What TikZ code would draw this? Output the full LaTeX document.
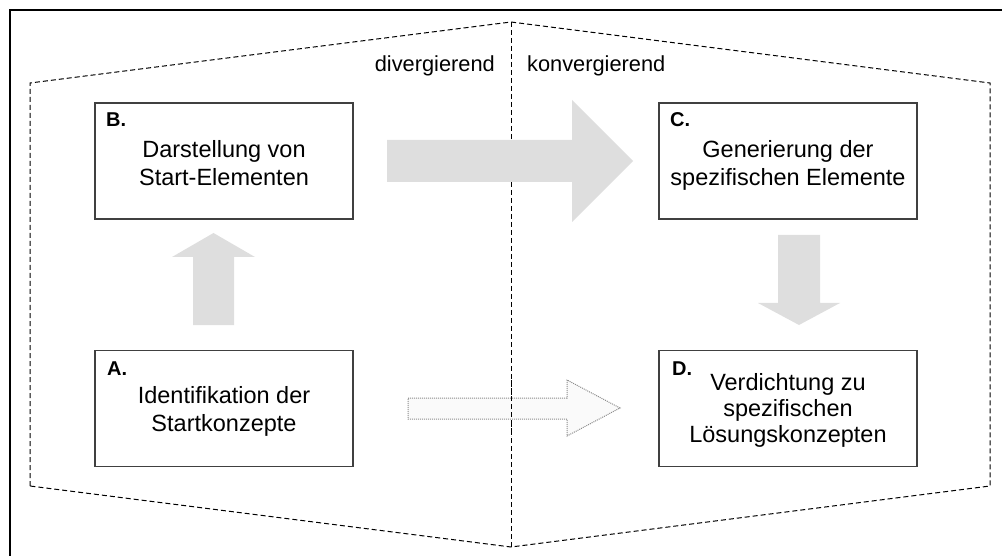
\documentclass[tikz,border=0pt]{standalone}
\usepackage{fontspec}
\setmainfont{Liberation Sans}
\begin{document}
\begin{tikzpicture}[x=1pt,y=-1pt,
  frame/.style={line width=2pt,black},
  zone/.style={line width=1pt,black,dash pattern=on 5pt off 3pt},
  stagebox/.style={draw=black!75,line width=1.5pt,fill=white,inner sep=0pt},
  bodytext/.style={inner sep=0pt,align=center,anchor=base,
    font=\fontsize{23.5}{28}\selectfont},
  tag/.style={inner sep=0pt,anchor=base west,font=\fontsize{20}{24}\selectfont\bfseries},
  phase/.style={inner sep=0pt,font=\fontsize{21.8}{26}\selectfont},
  blockarrow/.style={fill=black!13,draw=none},
  weakarrow/.style={fill=black!2,draw=black!45,line width=1pt,dash pattern=on 1pt off 1pt}]
\useasboundingbox (0,0) rectangle (1002,556);

% outer frame (top and left edges)
\draw[frame] (9.5,556) -- (9.5,10) -- (1002,10);

% divergent / convergent zones
\draw[zone] (30,486) -- (30,83) -- (511,22) -- (990,83) -- (990,486) -- (511,547) -- cycle;
\draw[zone] (511,22) -- (511,547);
\node[phase,anchor=base east] (div) at (495,72) {divergierend};
\node[phase,anchor=base west] (konv) at (527,72) {konvergierend};

% stage boxes
\node[stagebox,minimum width=258pt,minimum height=116pt] (B) at (224,161) {};
\node[stagebox,minimum width=258pt,minimum height=116pt] (C) at (788,161) {};
\node[stagebox,minimum width=258pt,minimum height=116pt] (A) at (224,408.5) {};
\node[stagebox,minimum width=258pt,minimum height=116pt] (D) at (788,408.5) {};

% block arrows between the stages
\path[blockarrow] (387,140) -- (572,140) -- (572,100) -- (633,161) -- (572,222)
  -- (572,182) -- (387,182) -- cycle;
\path[blockarrow] (193,325) -- (193,257) -- (172,257) -- (213.5,233) -- (255,257)
  -- (234,257) -- (234,325) -- cycle;
\path[blockarrow] (778,235) -- (820,235) -- (820,303) -- (840,303) -- (799,325)
  -- (758,303) -- (778,303) -- cycle;
\draw[weakarrow] (408,398) -- (567,398) -- (567,380) -- (620,408) -- (567,436)
  -- (567,419) -- (408,419) -- cycle;
\draw[zone] (511,380) -- (511,436);

% stage labels
\node[tag] (tB) at (106,127) {B.};
\node[tag] (tC) at (670,127) {C.};
\node[tag] (tA) at (107,375) {A.};
\node[tag] (tD) at (672,375) {D.};

% stage descriptions (base anchor sits on the last line)
\node[bodytext] (xB) at (224,186) {Darstellung von\\Start-Elementen};
\node[bodytext] (xC) at (788,186) {Generierung der\\spezifischen Elemente};
\node[bodytext] (xA) at (224,431) {Identifikation der\\Startkonzepte};
\node[bodytext,font=\fontsize{23.5}{26}\selectfont] (xD) at (788,442) {Verdichtung zu\\spezifischen\\Lösungskonzepten};
\end{tikzpicture}
\end{document}
